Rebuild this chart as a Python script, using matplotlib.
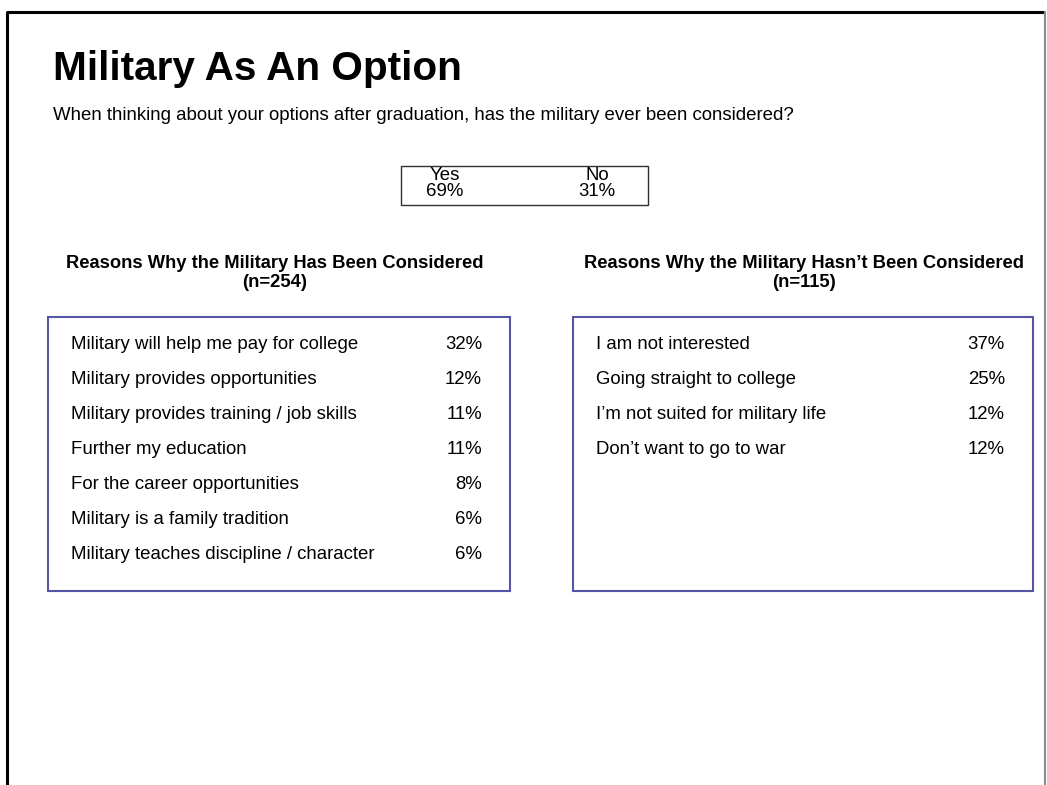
import matplotlib.pyplot as plt
from matplotlib.patches import Rectangle

plt.rcParams["font.family"] = ["Liberation Sans", "DejaVu Sans"]

# --- Data ---
title = "Military As An Option"
question = "When thinking about your options after graduation, has the military ever been considered?"
answer_labels = ["Yes", "No"]
answer_values = [69, 31]

considered_title = "Reasons Why the Military Has Been Considered"
considered_n = 254
considered_reasons = [
    "Military will help me pay for college",
    "Military provides opportunities",
    "Military provides training / job skills",
    "Further my education",
    "For the career opportunities",
    "Military is a family tradition",
    "Military teaches discipline / character",
]
considered_pct = [32, 12, 11, 11, 8, 6, 6]

not_title = "Reasons Why the Military Hasn\u2019t Been Considered"
not_n = 115
not_reasons = [
    "I am not interested",
    "Going straight to college",
    "I\u2019m not suited for military life",
    "Don\u2019t want to go to war",
]
not_pct = [37, 25, 12, 12]

# --- Figure (pixel coordinates, y down) ---
W, H = 1047, 785
fig = plt.figure(figsize=(W / 100, H / 100), dpi=100)
ax = fig.add_axes([0, 0, 1, 1])
ax.set_xlim(0, W)
ax.set_ylim(H, 0)
ax.axis("off")

fs = 13.4

# slide frame
ax.plot([6.5, 6.5, 1045], [H, 11.5, 11.5], color="black", lw=2.2, solid_capstyle="butt")
ax.plot([1045, 1045], [11.5, H], color="#8c8c8c", lw=1.5)

ax.text(53, 80, title, fontsize=29.2, fontweight="bold", va="baseline", ha="left")
ax.text(53, 120, question, fontsize=fs, va="baseline", ha="left")

# Yes / No box
ax.add_patch(Rectangle((401, 166), 247, 39, fill=False, ec="#303030", lw=1))
for x, lab, val in zip([445, 597], answer_labels, answer_values):
    ax.text(x, 180, lab, fontsize=fs, ha="center", va="baseline")
    ax.text(x, 196, f"{val}%", fontsize=fs, ha="center", va="baseline")


def panel(x0, x1, cx, head, n, reasons, pct):
    ax.text(cx, 268, head, fontsize=13.2, fontweight="bold", ha="center", va="baseline")
    ax.text(cx, 287, f"(n={n})", fontsize=13.2, fontweight="bold", ha="center", va="baseline")
    ax.add_patch(Rectangle((x0, 317), x1 - x0, 274, fill=False, ec="#5555a5", lw=1.5))
    for i, (r, p) in enumerate(zip(reasons, pct)):
        y = 349 + 35 * i
        ax.text(x0 + 23, y, r, fontsize=fs, ha="left", va="baseline")
        ax.text(x1 - 28, y, f"{p}%", fontsize=fs, ha="right", va="baseline")


panel(48, 510, 275, considered_title, considered_n, considered_reasons, considered_pct)
panel(573, 1033, 804, not_title, not_n, not_reasons, not_pct)

fig.savefig("out.png", dpi=100)
